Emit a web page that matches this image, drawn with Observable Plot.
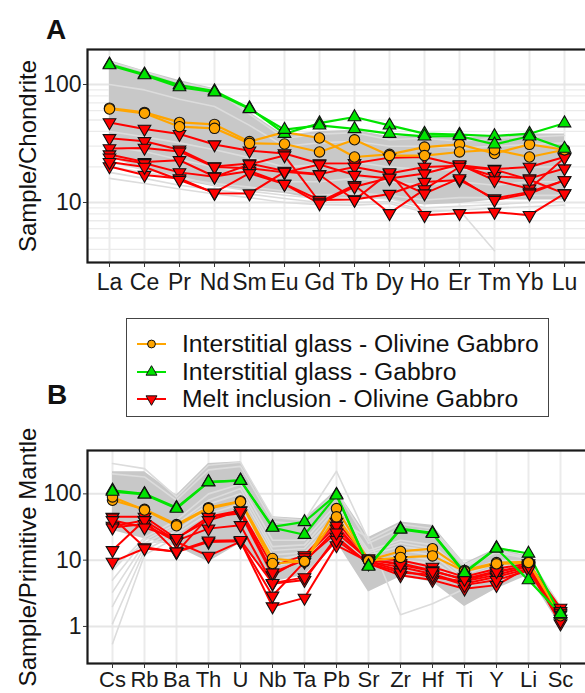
<!DOCTYPE html>
<html>
<head>
<meta charset="utf-8">
<script src="https://cdn.jsdelivr.net/npm/d3@7"></script>
<script src="https://cdn.jsdelivr.net/npm/@observablehq/plot@0.6"></script>
<style>
  html, body { margin: 0; padding: 0; background: #fff; overflow: hidden; }
  #fig { position: relative; width: 585px; height: 693px; overflow: hidden; font-family: "Liberation Sans", Arial, sans-serif; color: #111; }
  .panel { position: absolute; left: 0; }
  .tag { position: absolute; font-weight: bold; font-size: 28px; line-height: 1; }
  #legend { position: absolute; left: 126px; top: 318px; width: 423px; height: 99px; box-sizing: border-box; border: 1.3px solid #444; background: #fff; }
  .row { position: absolute; left: 0; height: 28px; }
  .row svg { position: absolute; left: 8px; top: 0; }
  .row span { position: absolute; left: 55px; top: 0; font-size: 24.7px; line-height: 28px; white-space: nowrap; }
</style>
</head>
<body>
<div id="fig">
  <div class="tag" style="left:46px;top:16px">A</div>
  <div class="tag" style="left:47px;top:381px">B</div>
  <div id="panelA" class="panel" style="top:0"></div>
  <div id="legend"></div>
  <div id="panelB" class="panel" style="top:420px"></div>
</div>
<script>
// ---------- Panel A: rare earth elements, normalised to chondrite ----------
const ree = ["La","Ce","Pr","Nd","Sm","Eu","Gd","Tb","Dy","Ho","Er","Tm","Yb","Lu"];

// interstitial glass, olivine gabbro
const reeOrange = [
  [63, 58, 47.7, 45.9, 32.8, 39.5, 35.2, 24.3, 25.6, 29.5, 31.1, 26, 31.1, 28],
  [62, 57, 43.9, 42.5, 31.7, 31.3, 26.8, 34, 25, 25, 26.8, 28, 24.3, 28]
];
// interstitial glass, gabbro
const reeGreen = [
  [148, 122, 99, 88, 63, 38.3, 47, 53, 45, 38.3, 37.6, 36.6, 38.3, 47],
  [146, 120, 95, 86, 62, 41.4, 45, 42, 38.3, 36.4, 36.6, 31.1, 36.4, 28.6]
];
// melt inclusions, olivine gabbro
const reeRed = [
  [47.7, 42, 38, 31, 27.5, 26, 21.4, 21.5, 24, 24.3, 20.7, 19.2, 20, 24.3],
  [35, 33, 28, 20.2, 21.4, 18.5, 17.4, 20, 17.6, 20, 20.5, 16.7, 16, 19.4],
  [28.7, 29, 27, 20, 19.5, 18, 21, 17.1, 16, 17.6, 21, 15.4, 13.1, 24],
  [25.5, 22, 22.8, 16.6, 18.5, 14.4, 10.5, 10.6, 11.8, 14.9, 15.5, 10.8, 12.3, 15.4],
  [24, 21.5, 18, 16.5, 21, 25, 10.1, 14, 8.1, 12.9, 20, 19, 15.6, 11.9],
  [20.2, 17.1, 16, 12, 11.9, 18.2, 17.2, 10.5, 18, 7.8, 8.1, 8.3, 7.8, 11.9],
  [22, 20, 15.5, 12.1, 17.7, 14.3, 9.8, 13.6, 16.2, 11.9, 16, 10.5, 11.9, 15.4]
];
// range of the comparison dataset
const reeBandHigh = [160, 130, 108, 92, 58, 37, 40, 41, 36, 37, 35, 37, 38, 38];
const reeBandLow  = [24, 19.4, 15.4, 13.6, 12.7, 11.9, 10.5, 11.1, 10.5, 9.5, 9.8, 10.5, 10.5, 10.5];
// individual comparison samples
const reeGrey = [
  [155, 128, 104, 90, 56, 35, 38, 39, 34, 35, 33, 35, 36, 37],
  [100, 90, 75, 65, 45, 30, 32, 33, 30, 30, 29, 30, 31, 32],
  [40, 36, 32, 28, 24, 20, 21, 22, 20, 19, 19, 19, 20, 20],
  [30, 27, 23, 20, 18, 15, 15, 16, 15, 14, 15, 14, 15, 15],
  [20, 18, 16, 14.5, 13.5, 12.5, 11.5, 12, 11.5, 10.5, 11, 11, 11.5, 11.5],
  [16, 14.5, 13, 11.8, 11, 10, 9.6, 9.5, 9.8, 8.3, 8.6, 9, 9.2, 9.5],
  [18, 16, 14, 12.8, 11.8, 10.8, 10, 10, 10.2, 8.6, 8.6, 3.9, null, null],
  [22, 19, 16.5, 14, 12.5, 11.5, 10.8, 11, 10.8, 9, 9.3, 9.6, 10, 10.2]
];
const reeGridMinor = [4, 5, 6, 7, 8, 9, 20, 30, 40, 50, 60, 70, 80, 90];
const reeGridMajor = [10, 100];

// ---------- Panel B: trace elements, normalised to primitive mantle ----------
const trace = ["Cs","Rb","Ba","Th","U","Nb","Ta","Pb","Sr","Zr","Hf","Ti","Y","Li","Sc"];

const traceOrange = [
  [80, 58.5, 34.4, 62, 78, 10.6, 9.4, 60, 10, 13.6, 14.9, 7.0, 9.2, 9.4, 1.5],
  [90, 57, 33, 60, 76, 8.9, 9.6, 45, 9.8, 11, 11.6, 6.8, 8.8, 9.2, 1.45]
];
const traceGreen = [
  [113, 100, 62, 152, 160, 31.7, 37.7, 97.6, 8.2, 29.9, 25.8, 6.6, 15.3, 12.6, 1.48],
  [108, 98, 60, 150, 158, 31, 24.2, 95, 8.0, 29, 25, 6.4, 15, 5.0, 1.55]
];
const traceRed = [
  [45, 45, 21, 45, 56, 8.2, 11.8, 37.7, 10.6, 10, 7.9, 5.6, 7.4, 8.9, 1.9],
  [44, 15.6, 13.3, 18.8, 19.2, 2.0, 2.7, 16.7, 9.5, 7.9, 6.2, 4.4, 5.6, 7.4, 1.5],
  [32.8, 39.5, 19.7, 29.9, 33.6, 4.4, 5.0, 22.4, 8.9, 5.9, 5.0, 3.7, 4.2, 7.8, 1.1],
  [31, 35, 18.8, 11.6, 19, 2.9, 9.4, 29.9, 10, 9, 7, 5, 6.5, 8.5, 1.7],
  [14.1, 40, 13.1, 45, 50.4, 5.9, 11, 33, 9.5, 7, 5.5, 4.8, 6, 8, 1.3],
  [9.4, 15, 13.5, 19.7, 20, 4.5, 5.5, 20, 9, 6.5, 6, 4.2, 5, 7, 1.2],
  [40, 31, 21.5, 40, 55, 6.5, 10, 26, 10.2, 8.5, 6.8, 5.2, 6.8, 8.2, 1.6]
];
const traceBandHigh = [215, 215, 95, 287, 304, 45, 42, 115, 22, 37.7, 33.6, 8.9, 15, 11.5, 2.1];
const traceBandLow  = [28, 21, 16, 9.4, 18, 4.7, 5.9, 18.8, 3.3, 5.6, 4.7, 2.0, 3.7, 5.9, 1.0];
const traceGrey = [
  [287, 240, 90, 270, 300, 44, 40, 219, 20, 35, 30, 8.5, 14, 11, 2.0],
  [200, 180, 80, 230, 260, 38, 35, 110, 18, 30, 27, 8, 13, 10.5, 1.9],
  [0.55, 12, 22, 40, 60, 8, 10, 30, 8, 10, 9, 4, 6, 7, 1.3],
  [1.1, 14, 25, 50, 70, 9, 11, 35, 9, 12, 10, 4.5, 6.5, 7.5, 1.4],
  [2.0, 16, 28, 60, 80, 12, 13, 40, 10, 14, 12, 5, 7, 8, 1.5],
  [3.3, 18, 32, 70, 100, 14, 15, 50, 12, 16, 14, 5.5, 8, 8.5, 1.6],
  [5, 20, 35, 80, 120, 16, 17, 60, 13, 18, 15, 6, 9, 9, 1.7],
  [7, 22, 40, 100, 140, 20, 20, 70, 14, 20, 17, 6.5, 10, 9.5, 1.8],
  [8, 18, 20, 40, 60, 10, 12, 40, 22, 1.5, 2.2, 3.7, 6, 7, 1.3]
];
const traceGridMajor = [1, 10, 100];

// ---------- shared styling ----------
const colors = { orange: "#ffa500", green: "#00e400", red: "#ff0000" };
const bandFill = "#c8c8c8";
const greyLine = "#dcdcdc";
const gridColor = "#ebebeb";
const font = "'Liberation Sans', Arial, sans-serif";

function tidy(series, cats, group) {
  return series.flatMap((vals, i) => vals.map((v, j) => ({ cat: cats[j], v, id: group + i })));
}
function band(cats, lo, hi) {
  return cats.map((c, j) => ({ cat: c, lo: lo[j], hi: hi[j] }));
}

function panel({ cats, orange, green, red, bandLo, bandHi, grey, gridMajor, gridMinor, height, marginTop, marginBottom, xRange, yDomain, yRange, ticks, label, xFont, xPad }) {
  const O = tidy(orange, cats, "o"), G = tidy(green, cats, "g"), R = tidy(red, cats, "r"), Gy = tidy(grey, cats, "k");
  const ok = d => d.v != null;
  return Plot.plot({
    width: 590, height,
    marginLeft: 87, marginRight: 4, marginTop, marginBottom,
    style: `max-width:none;background:transparent;font-family:${font};overflow:visible`,
    x: { type: "point", domain: cats, range: xRange, padding: 0 },
    y: { type: "log", domain: yDomain, range: yRange },
    marks: [
      Plot.ruleX(cats, { stroke: gridColor, strokeWidth: 2 }),
      Plot.ruleY(gridMinor, { stroke: gridColor, strokeWidth: 1.3 }),
      Plot.ruleY(gridMajor, { stroke: "#e6e6e6", strokeWidth: 2 }),
      Plot.areaY(band(cats, bandLo, bandHi), { x: "cat", y1: "lo", y2: "hi", fill: bandFill }),
      Plot.line(Gy, { x: "cat", y: "v", z: "id", stroke: greyLine, strokeWidth: 1.6 }),
      Plot.line(R, { x: "cat", y: "v", z: "id", stroke: colors.red, strokeWidth: 2 }),
      Plot.line(O, { x: "cat", y: "v", z: "id", stroke: colors.orange, strokeWidth: 2.2 }),
      Plot.line(G, { x: "cat", y: "v", z: "id", stroke: colors.green, strokeWidth: 2.2 }),
      Plot.dot(R.filter(ok), { x: "cat", y: "v", symbol: "triangle", rotate: 180, r: 4.7, fill: colors.red, stroke: "#111", strokeWidth: 1.1 }),
      Plot.dot(O.filter(ok), { x: "cat", y: "v", symbol: "circle", r: 5.2, fill: colors.orange, stroke: "#111", strokeWidth: 1.1 }),
      Plot.dot(G.filter(ok), { x: "cat", y: "v", symbol: "triangle", r: 4.7, fill: colors.green, stroke: "#111", strokeWidth: 1.1 }),
      Plot.frame({ stroke: "#1a1a1a", strokeWidth: 2.2 }),
      Plot.axisX({ tickSize: 5, tickPadding: xPad, fontSize: xFont, stroke: "#333", fill: "#1a1a1a", label: null }),
      Plot.axisY({ ticks, tickFormat: d => String(d), tickSize: 4, tickPadding: 2, fontSize: 23, stroke: "#333", fill: "#1a1a1a", label: null }),
      Plot.text([label], { frameAnchor: "left", textAnchor: "middle", rotate: -90, dx: -59, fontSize: 24, fill: "#111", text: d => d })
    ]
  });
}

document.getElementById("panelA").append(panel({
  cats: ree, orange: reeOrange, green: reeGreen, red: reeRed,
  bandLo: reeBandLow, bandHi: reeBandHigh, grey: reeGrey,
  gridMajor: reeGridMajor, gridMinor: reeGridMinor,
  height: 300, marginTop: 49, marginBottom: 38,
  xRange: [107.7, 565.7], yDomain: [3.1, 198], yRange: [262, 49],
  ticks: reeGridMajor, label: "Sample/Chondrite", xFont: 23, xPad: 6
}));

document.getElementById("panelB").append(panel({
  cats: trace, orange: traceOrange, green: traceGreen, red: traceRed,
  bandLo: traceBandLow, bandHi: traceBandHigh, grey: traceGrey,
  gridMajor: traceGridMajor, gridMinor: [],
  height: 273, marginTop: 30, marginBottom: 30,
  xRange: [106, 566.7], yDomain: [0.276, 451], yRange: [243, 30],
  ticks: traceGridMajor, label: "Sample/Primitive Mantle", xFont: 22, xPad: 3
}));

// ---------- legend ----------
const legendItems = [
  { label: "Interstitial glass - Olivine Gabbro", color: colors.orange, symbol: d3.symbolCircle, rotate: 0 },
  { label: "Interstitial glass - Gabbro", color: colors.green, symbol: d3.symbolTriangle, rotate: 0 },
  { label: "Melt inclusion - Olivine Gabbro", color: colors.red, symbol: d3.symbolTriangle, rotate: 180 }
];
const legendRowTop = [10.5, 38.5, 65.5];
const legend = d3.select("#legend");
legendItems.forEach((item, i) => {
  const row = legend.append("div").attr("class", "row").style("top", legendRowTop[i] + "px");
  const svg = row.append("svg").attr("width", 40).attr("height", 28);
  svg.append("line").attr("x1", 2).attr("x2", 31).attr("y1", 14).attr("y2", 14)
    .attr("stroke", item.color).attr("stroke-width", 2);
  svg.append("path").attr("d", d3.symbol(item.symbol, item.symbol === d3.symbolCircle ? 48 : 52)())
    .attr("transform", `translate(16.5,14) rotate(${item.rotate})`)
    .attr("fill", item.color).attr("stroke", "#111").attr("stroke-width", 1);
  row.append("span").text(item.label);
});
</script>
</body>
</html>
